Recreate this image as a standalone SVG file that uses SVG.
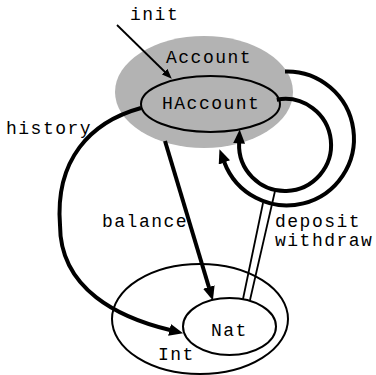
<svg xmlns="http://www.w3.org/2000/svg" width="376" height="375" viewBox="0 0 376 375">
  <style>
    .lbl { font-family: "Liberation Mono", "Courier New", monospace; font-size: 18px; letter-spacing: 1.5px; fill: #000; }
    .ell { fill: none; stroke: #000; stroke-width: 2; }
    .thick { fill: none; stroke: #000; stroke-width: 4; }
    .thin { fill: none; stroke: #000; stroke-width: 1.8; }
  </style>
  <defs>
    <marker id="head" markerUnits="userSpaceOnUse" viewBox="0 0 14 12" markerWidth="14" markerHeight="12" refX="0.5" refY="6" orient="auto">
      <path d="M0,0 L14,6 L0,12 z" fill="#000"/>
    </marker>
    <marker id="headSmall" markerUnits="userSpaceOnUse" viewBox="0 0 10 8" markerWidth="10" markerHeight="8" refX="0.5" refY="4" orient="auto">
      <path d="M0,0 L10,4 L0,8 z" fill="#000"/>
    </marker>
  </defs>

  <!-- Account state with nested HAccount -->
  <g id="account">
    <ellipse cx="204" cy="92" rx="89" ry="56" fill="#b3b3b3"/>
    <text class="lbl" x="166" y="63">Account</text>
  </g>
  <g id="haccount">
    <ellipse class="ell" cx="210.5" cy="104" rx="69.5" ry="28"/>
    <text class="lbl" x="162" y="109">HAccount</text>
  </g>

  <!-- Int state with nested Nat -->
  <g id="int">
    <ellipse class="ell" cx="200" cy="319" rx="88" ry="55"/>
    <text class="lbl" x="158" y="360">Int</text>
  </g>
  <g id="nat">
    <ellipse class="ell" cx="229.5" cy="326.5" rx="46.5" ry="28.5"/>
    <text class="lbl" x="211" y="336">Nat</text>
  </g>

  <g id="connectors">
    <!-- init -->
    <line class="thin" x1="117" y1="25" x2="165" y2="72" marker-end="url(#headSmall)"/>
    <!-- history -->
    <path class="thick" d="M141,108 C90,122 55,160 60,225 C60,290 120,318 170,330" marker-end="url(#head)"/>
    <!-- balance -->
    <path class="thick" d="M165,141 L209,287.5" marker-end="url(#head)"/>
    <!-- deposit (outer loop) and withdraw (inner loop) -->
    <path class="thick" d="M285,71.5 A67,67 0 1 1 224.2,162" marker-end="url(#head)"/>
    <path class="thick" d="M276.8,99.7 A46,46 0 1 1 239.1,143" marker-end="url(#head)"/>
    <line class="thin" x1="243" y1="299" x2="263" y2="203"/>
    <line class="thin" x1="250" y1="300" x2="275" y2="191"/>
  </g>

  <g id="labels">
    <text class="lbl" x="130" y="20">init</text>
    <text class="lbl" x="6" y="134">history</text>
    <text class="lbl" x="102" y="227">balance</text>
    <text class="lbl" x="275" y="227">deposit</text>
    <text class="lbl" x="275" y="246">withdraw</text>
  </g>
</svg>
